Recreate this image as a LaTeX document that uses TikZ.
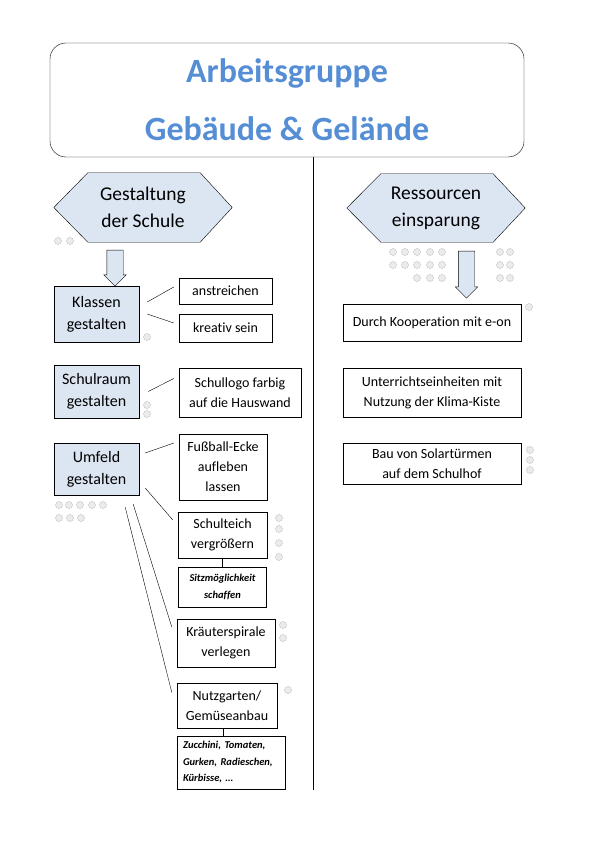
\documentclass[tikz,border=0pt]{standalone}
\usepackage{fontspec}
\setmainfont{Carlito}[Ligatures=NoCommon]
\usepackage{tikz}
\usetikzlibrary{shapes.arrows,backgrounds}
\definecolor{boxblue}{RGB}{220,230,242}
\definecolor{titleblue}{RGB}{85,142,213}
\tikzset{
titlebox/.style = {draw, rectangle, rounded corners=16pt, align=center, text=titleblue, font=\bfseries\fontsize{34}{58}\selectfont, inner sep=0pt},
hexlabel/.style = {rectangle, align=center, font=\fontsize{19.5}{27}\selectfont, inner sep=0pt},
hexa/.style = {draw, fill=boxblue, thin},
block/.style = {draw, fill=boxblue, rectangle, align=center, font=\fontsize{16}{22}\selectfont, inner sep=0pt},
note/.style = {draw, fill=white, rectangle, align=center, font=\fontsize{14}{20}\selectfont, inner sep=0pt},
detail/.style = {draw, fill=white, rectangle, font=\bfseries\itshape\fontsize{10.5}{16.5}\selectfont, inner sep=0pt},
downarrow/.style = {draw, fill=boxblue, single arrow, rotate=-90, inner sep=8pt, minimum width=22pt, single arrow head extend=3pt},
link/.style = {thin},
sticker/.style = {draw=gray!50, fill=gray!15, thin}
}
\begin{document}
\begin{tikzpicture}[x=1pt, y=-1pt]
  \useasboundingbox (0,0) rectangle (595,842);

  % title and headings
  \node [titlebox, minimum width=474pt, minimum height=114pt] (title)     at (287,100)   {Arbeitsgruppe\\Gebäude \& Gelände};
  \node [hexlabel, minimum width=178pt, minimum height=69pt]  (gestaltung) at (143,207.5) {Gestaltung\\der Schule};
  \node [hexlabel, minimum width=178pt, minimum height=68pt]  (ressourcen) at (436,208)   {Ressourcen\\einsparung};
  \begin{scope}[on background layer]
    \foreach \n in {gestaltung,ressourcen}
      \draw [hexa] (\n.west) -- ([xshift=34pt]\n.north west) -- ([xshift=-32pt]\n.north east) -- (\n.east)
        -- ([xshift=-32pt]\n.south east) -- ([xshift=34pt]\n.south west) -- cycle;
  \end{scope}
  \node [downarrow, minimum height=36pt] (arrowl) at (115,264)   {};
  \node [downarrow, minimum height=47pt] (arrowr) at (466.5,270.5) {};

  % left column
  \node [block, minimum width=85pt, minimum height=56pt]  (klassen)     at (96.5,314)   {Klassen\\gestalten};
  \node [note, minimum width=93pt, minimum height=26pt]   (anstreichen) at (225.5,291)  {anstreichen};
  \node [note, minimum width=93pt, minimum height=28pt]   (kreativ)     at (225.5,328)  {kreativ sein};
  \node [block, minimum width=85pt, minimum height=53pt]  (schulraum)   at (96.5,391.5) {Schulraum\\gestalten};
  \node [note, minimum width=122pt, minimum height=49pt]  (schullogo)   at (240,392.5)  {Schullogo farbig\\auf die Hauswand};
  \node [block, minimum width=85pt, minimum height=52pt]  (umfeld)      at (96.5,469)   {Umfeld\\gestalten};
  \node [note, minimum width=88pt, minimum height=66pt]   (fussball)    at (223,467)    {Fußball-Ecke\\aufleben\\lassen};
  \node [note, minimum width=89pt, minimum height=46pt]   (schulteich)  at (222.5,535)  {Schulteich\\vergrößern};
  \node [detail, align=center, minimum width=88pt, minimum height=40pt] (sitz) at (222.5,587) {Sitzmöglichkeit\\schaffen};
  \node [note, minimum width=98pt, minimum height=48pt]   (kraeuter)    at (226,643)    {Kräuterspirale\\verlegen};
  \node [note, minimum width=100pt, minimum height=45pt]  (nutzgarten)  at (227,705.5)  {Nutzgarten/\\Gemüseanbau};
  \node [detail, align=left, text width=96pt, inner xsep=6pt, minimum height=53pt] (zucchini) at (231,762.5) {Zucchini, Tomaten,\\Gurken, Radieschen,\\Kürbisse, \dots};

  % right column
  \node [note, minimum width=178pt, minimum height=37pt] (kooperation) at (432,322.5) {Durch Kooperation mit e-on};
  \node [note, minimum width=178pt, minimum height=49pt] (unterricht)  at (432,392.5) {Unterrichtseinheiten mit\\Nutzung der Klima-Kiste};
  \node [note, minimum width=178pt, minimum height=41pt] (solar)       at (432,463.5) {Bau von Solartürmen\\auf dem Schulhof};

  % divider
  \coordinate (divend) at (313,790);
  \draw [link] (title.south -| divend) -- (divend);

  % connectors
  \draw [link] ([xshift=8pt,yshift=12pt]klassen.east) -- ([xshift=-5pt,yshift=4pt]anstreichen.west);
  \draw [link] ([xshift=8pt]klassen.east) -- ([xshift=-5pt,yshift=5pt]kreativ.west);
  \draw [link] ([xshift=9pt]schulraum.east) -- ([xshift=-5pt,yshift=14pt]schullogo.west);
  \draw [link] ([xshift=6pt,yshift=16pt]umfeld.east) -- ([xshift=-5pt,yshift=24pt]fussball.west);
  \draw [link] ([xshift=6pt,yshift=-19pt]umfeld.east) -- ([xshift=-5pt,yshift=15pt]schulteich.west);
  \draw [link] ([xshift=-6pt,yshift=-9pt]umfeld.south east) -- ([xshift=-5pt,yshift=16pt]kraeuter.west);
  \draw [link] ([xshift=-14pt,yshift=-12pt]umfeld.south east) -- ([xshift=-5pt,yshift=13pt]nutzgarten.west);
  \draw [link] (schulteich.south) -- (sitz.north);
  \draw [link] ([xshift=-4pt]nutzgarten.south) -- ([xshift=-4pt]nutzgarten.south |- zucchini.north);

  % stickers
  \foreach \p in {(58,241),(70,241),(147,337),(147,405),(147,414),
                  (59,505),(69,505),(80,505),(92,505),(103,505),(59,518),(70,518),(81,518),
                  (279,518),(279,529),(279,543),(279,557),(283,625),(283,638),(288,690),
                  (393,252),(405,252),(417,252),(430,252),(442,252),
                  (393,265),(405,265),(417,265),(430,265),(442,265),
                  (417,278),(430,278),(442,278),
                  (500,252),(510,252),(500,265),(510,265),(500,278),(510,278),
                  (529,307),(530,450),(530,460),(530,470)}
    \draw [sticker] \p circle [radius=3.5pt];
\end{tikzpicture}
\end{document}
